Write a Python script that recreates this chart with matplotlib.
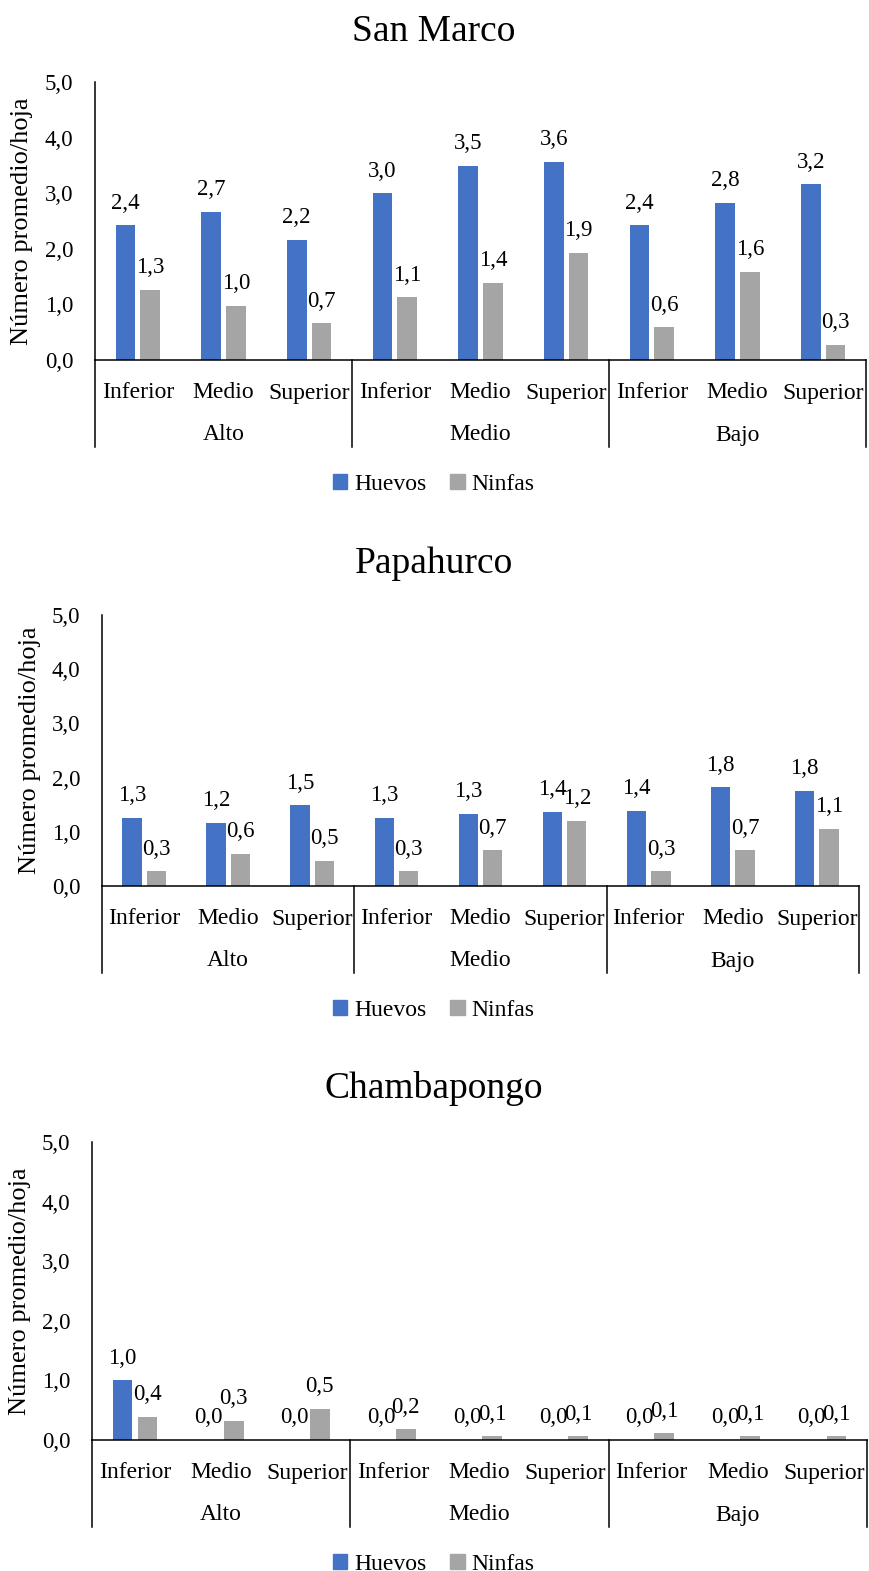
import matplotlib.pyplot as plt
from matplotlib.ticker import FuncFormatter
from matplotlib.patches import Patch

plt.rcParams['font.family'] = ['Liberation Serif', 'DejaVu Serif']

niveles = ['Inferior', 'Medio', 'Superior'] * 3
zonas = ['Alto', 'Medio', 'Bajo']

sm_huevos = [2.42, 2.66, 2.16, 3.00, 3.49, 3.56, 2.42, 2.83, 3.16]
sm_ninfas = [1.26, 0.98, 0.66, 1.13, 1.39, 1.93, 0.59, 1.59, 0.27]
pa_huevos = [1.26, 1.16, 1.49, 1.26, 1.33, 1.37, 1.39, 1.82, 1.76]
pa_ninfas = [0.27, 0.59, 0.46, 0.27, 0.66, 1.20, 0.27, 0.66, 1.06]
ch_huevos = [1.00, 0.00, 0.00, 0.00, 0.00, 0.00, 0.00, 0.00, 0.00]
ch_ninfas = [0.39, 0.32, 0.52, 0.18, 0.06, 0.06, 0.11, 0.06, 0.06]

AZUL = '#4472C4'
GRIS = '#A5A5A5'

W, H = 869, 1571
fig = plt.figure(figsize=(W / 100, H / 100), dpi=100)

# title, series, axes box in pixels (left, right, top, bottom), title y, ylabel x
paneles = [
    ('San Marco', sm_huevos, sm_ninfas, (95, 866, 82, 360), 32, 22),
    ('Papahurco', pa_huevos, pa_ninfas, (102, 859, 615, 886), 564, 30),
    ('Chambapongo', ch_huevos, ch_ninfas, (92, 867, 1142, 1440), 1089, 20),
]


def coma(v, pos=None):
    return f"{v:.1f}".replace('.', ',')


for titulo, huevos, ninfas, (l, r, t, b), ty, ylx in paneles:
    ax = fig.add_axes([l / W, 1 - b / H, (r - l) / W, (b - t) / H])
    h = b - t
    x = list(range(9))
    ax.bar([i - 0.145 for i in x], huevos, 0.23, color=AZUL)
    ax.bar([i + 0.145 for i in x], ninfas, 0.23, color=GRIS)
    ax.set_xlim(-0.5, 8.5)
    ax.set_ylim(0, 5)
    ax.set_yticks([0, 1, 2, 3, 4, 5])
    ax.yaxis.set_major_formatter(FuncFormatter(coma))
    ax.tick_params(axis='y', length=0, pad=15.5, labelsize=16.5)
    ax.set_xticks([])
    for s in ('top', 'right'):
        ax.spines[s].set_visible(False)
    for s in ('left', 'bottom'):
        ax.spines[s].set_linewidth(1.1)

    # value labels
    for i in x:
        ax.annotate(coma(huevos[i]), (i - 0.145, huevos[i]), xytext=(0, 12),
                    textcoords='offset points', ha='center', va='baseline',
                    fontsize=16.5)
        ax.annotate(coma(ninfas[i]), (i + 0.145, ninfas[i]), xytext=(0, 12),
                    textcoords='offset points', ha='center', va='baseline',
                    fontsize=16.5)

    # two-level category axis
    tr = ax.get_xaxis_transform()
    for sep in (-0.5, 2.5, 5.5, 8.5):
        ax.plot([sep, sep], [0, -87 / h], transform=tr, color='black',
                lw=1.1, clip_on=False)
    for i in x:
        ax.text(i, -33 / h, niveles[i], transform=tr, ha='center',
                va='center', fontsize=17)
    for j, z in enumerate(zonas):
        ax.text(3 * j + 1, -75 / h, z, transform=tr, ha='center',
                va='center', fontsize=17)

    ax.legend(handles=[Patch(color=AZUL, label='Huevos'),
                       Patch(color=GRIS, label='Ninfas')],
              loc='center', bbox_to_anchor=(434 / W, 1 - (b + 124) / H),
              bbox_transform=fig.transFigure, ncol=2, frameon=False,
              fontsize=17, handlelength=0.6, handleheight=0.6,
              handletextpad=0.3, columnspacing=1.0)

    fig.text(434 / W, 1 - ty / H, titulo, ha='center', va='center',
             fontsize=27)
    fig.text(ylx / W, 1 - (t + b) / 2 / H, 'Número promedio/hoja',
             rotation=90, ha='center', va='center', fontsize=19)

fig.savefig('out.png', dpi=100)
